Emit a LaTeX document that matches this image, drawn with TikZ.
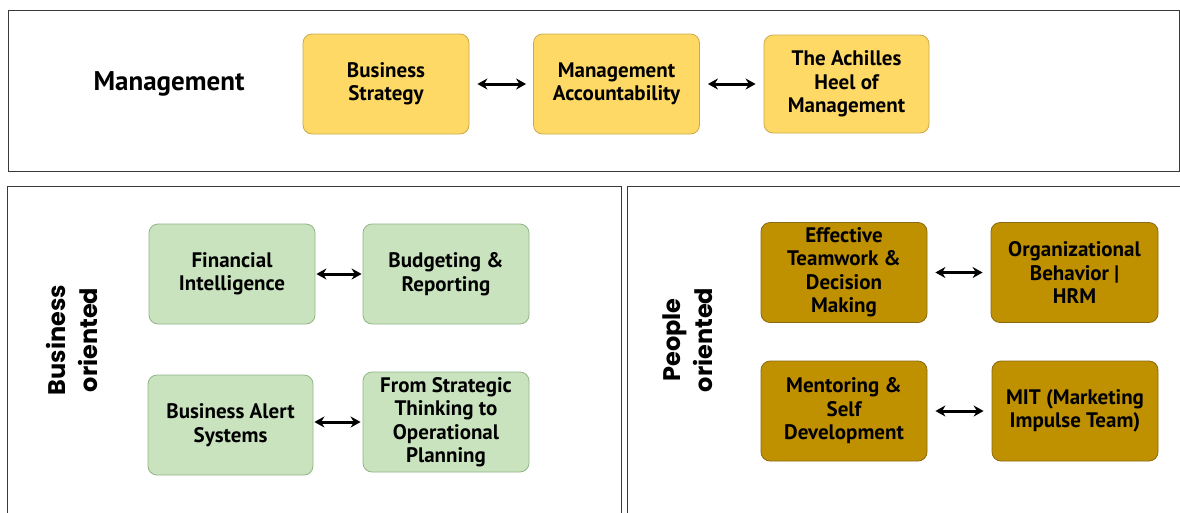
\documentclass[tikz,border=0pt]{standalone}
\usepackage{fontspec}
\setmainfont{PT Sans}
\newfontfamily\sidefont{Poppins}
\usetikzlibrary{arrows.meta}
\definecolor{ylwfill}{HTML}{FFD966}
\definecolor{ylwdraw}{HTML}{C9A94A}
\definecolor{grnfill}{HTML}{C9E3BE}
\definecolor{grndraw}{HTML}{93B486}
\definecolor{brnfill}{HTML}{BF9000}
\definecolor{brndraw}{HTML}{8A6A10}
\definecolor{framecol}{HTML}{3A3A3A}
\tikzset{
  frame/.style={draw=framecol, line width=1pt},
  box/.style={rounded corners=9pt, minimum width=166pt, minimum height=100pt,
    align=center, font=\fontsize{21}{23.5}\selectfont\bfseries, inner sep=2pt, line width=0.8pt},
  ybox/.style={box, fill=ylwfill, draw=ylwdraw},
  gbox/.style={box, fill=grnfill, draw=grndraw},
  bbox/.style={box, fill=brnfill, draw=brndraw},
  link/.style={{Stealth[length=10pt,width=11pt]}-{Stealth[length=10pt,width=11pt]}, line width=3pt, black},
  sidelabel/.style={align=center, font=\sidefont\fontsize{24}{32}\selectfont\bfseries, rotate=90},
}
\begin{document}
\begin{tikzpicture}[x=1pt,y=-1pt]
\useasboundingbox (0,0) rectangle (1180,512);
% frames
\draw[frame] (8,10) rectangle (1179,171);
\draw[frame] (7,186) -- (621,186) -- (621,515);
\draw[frame] (7,515) -- (7,186);
\draw[frame] (627,515) -- (627,186) -- (1183,186);
% management row
\node[font=\fontsize{27}{30}\selectfont\bfseries] (mgmt) at (169,84) {Management};
\node[ybox] (bs) at (386,84) {Business\\Strategy};
\node[ybox] (ma) at (616.5,84) {Management\\Accountability};
\node[ybox, minimum width=165pt, minimum height=98pt] (ah) at (846.5,84) {The Achilles\\Heel of\\Management};
\draw[link, shorten <=8pt, shorten >=7pt] (bs.east) -- (ma.west);
\draw[link, shorten <=8pt, shorten >=8pt] (ma.east) -- (ah.west);
% business oriented
\node[sidelabel] (blabel) at (72,340) {Business\\oriented};
\node[gbox] (fi) at (232,274) {Financial\\Intelligence};
\node[gbox] (br) at (446,274) {Budgeting \&\\Reporting};
\node[gbox, minimum width=165pt] (ba) at (230.5,425) {Business Alert\\Systems};
\node[gbox] (fs) at (446,422) {From Strategic\\Thinking to\\Operational\\Planning};
\draw[link, shorten <=1pt, shorten >=1pt] (fi.east) -- (br.west);
\draw[link, shorten <=1pt, shorten >=2pt] (ba.east |- fs.west) -- (fs.west);
% people oriented
\node[sidelabel] (plabel) at (688,340) {People\\oriented};
\node[bbox] (et) at (844,272.5) {Effective\\Teamwork \&\\Decision\\Making};
\node[bbox, minimum width=167pt] (ob) at (1074.5,272.5) {Organizational\\Behavior |\\HRM};
\node[bbox] (me) at (844,411) {Mentoring \&\\Self\\Development};
\node[bbox] (mi) at (1075,411) {MIT (Marketing\\Impulse Team)};
\draw[link, shorten <=8pt, shorten >=8pt] (et.east) -- (ob.west);
\draw[link, shorten <=8pt, shorten >=8pt] (me.east) -- (mi.west);
\end{tikzpicture}
\end{document}
